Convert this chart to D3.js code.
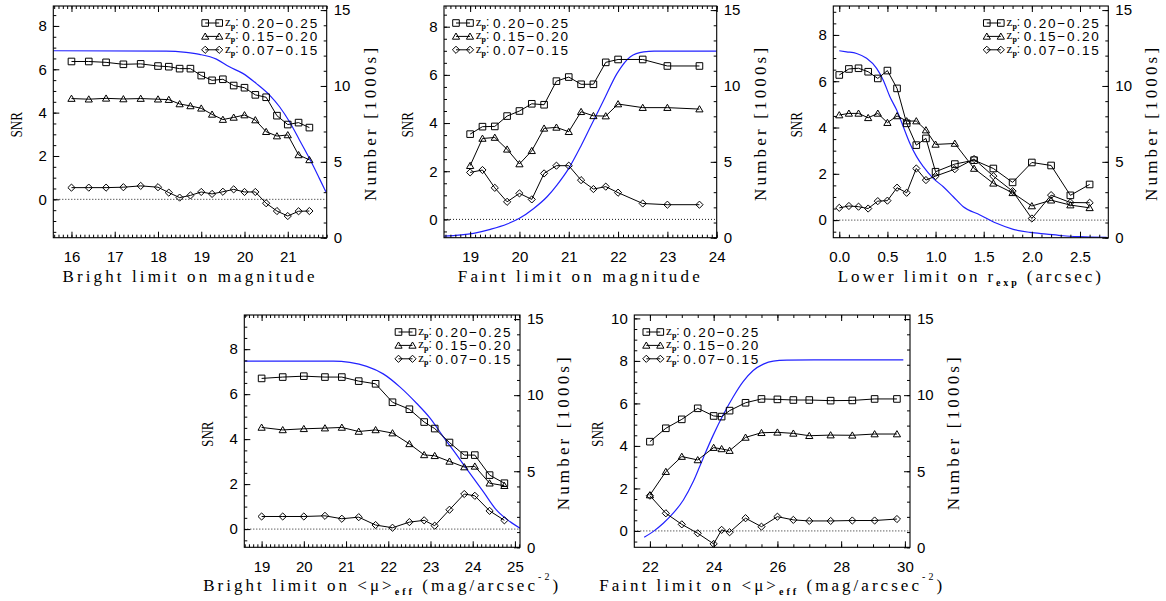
<!DOCTYPE html>
<html>
<head>
<meta charset="utf-8">
<script src="https://cdn.jsdelivr.net/npm/d3@7"></script>
<style>
  html, body { margin: 0; padding: 0; background: #fff; }
  svg { display: block; }
</style>
</head>
<body>
<svg id="chart" width="1166" height="601"></svg>
<script>
// ---------------- DATA ----------------
const legendLabels = ["0.20\u22120.25", "0.15\u22120.20", "0.07\u22120.15"];
const rightTicks = [0, 5, 10, 15];

// Panel 1: Bright limit on magnitude
const p1X   = [16,16.4,16.8,17.2,17.6,18,18.25,18.5,18.75,19,19.25,19.5,19.75,20,20.25,20.5,20.75,21,21.25,21.5];
const p1Sq  = [6.36,6.36,6.32,6.23,6.25,6.15,6.12,6.03,6.03,5.71,5.49,5.54,5.25,5.15,4.82,4.71,3.86,3.45,3.54,3.31];
const p1Tri = [4.65,4.62,4.66,4.63,4.65,4.62,4.60,4.40,4.31,4.20,3.92,3.68,3.78,3.89,3.66,3.12,2.92,2.97,2.05,1.82];
const p1Dia = [0.54,0.54,0.54,0.56,0.62,0.56,0.31,0.08,0.18,0.34,0.25,0.35,0.46,0.34,0.34,-0.18,-0.54,-0.77,-0.55,-0.54];
const p1NX  = [15.58,18.19,18.65,18.96,19.35,19.65,19.96,20.27,20.58,20.81,21.04,21.27,21.5,21.73,21.88];
const p1N   = [12.32,12.30,12.21,12.08,11.77,11.26,10.83,10.17,9.40,8.63,7.64,6.44,5.23,3.91,3.03];
const p1XTicks = [16,17,18,19,20,21];
const p1YTicks = [0,2,4,6,8];

// Panel 2: Faint limit on magnitude
const p2X   = [19,19.25,19.5,19.75,20,20.25,20.5,20.75,21,21.25,21.5,21.75,22,22.5,23,23.65];
const p2Sq  = [3.54,3.85,3.86,4.29,4.50,4.80,4.76,5.74,5.91,5.61,5.61,6.52,6.64,6.64,6.37,6.37];
const p2Tri = [2.23,3.36,3.40,2.91,2.30,2.85,3.78,3.82,3.64,4.47,4.30,4.29,4.79,4.64,4.64,4.58];
const p2Dia = [1.95,2.05,1.31,0.73,1.08,0.83,1.91,2.23,2.23,1.63,1.26,1.36,1.11,0.66,0.61,0.61];
const p2NX  = [18.47,19.07,19.41,19.75,20.0,20.29,20.56,20.76,21.0,21.24,21.44,21.71,21.98,22.25,22.52,22.73,24.0];
const p2N   = [0.11,0.29,0.55,0.90,1.28,1.93,2.70,3.47,4.57,6.00,7.31,9.07,10.83,11.93,12.25,12.30,12.30];
const p2XTicks = [19,20,21,22,23,24];
const p2YTicks = [0,2,4,6,8];

// Panel 3: Lower limit on r_exp
const p3X   = [0,0.1,0.2,0.3,0.4,0.5,0.6,0.7,0.8,0.9,1.0,1.2,1.4,1.6,1.8,2.0,2.2,2.4,2.6];
const p3Sq  = [6.27,6.53,6.56,6.41,6.12,6.46,5.69,4.18,3.24,3.53,2.09,2.42,2.59,2.23,1.63,2.49,2.36,1.07,1.54];
const p3Tri = [4.54,4.61,4.61,4.42,4.61,4.21,4.50,4.28,4.28,3.89,3.27,3.31,2.23,1.59,1.18,0.61,0.86,0.65,0.53];
const p3Dia = [0.53,0.61,0.58,0.50,0.82,0.84,1.40,1.18,2.23,1.73,1.90,2.20,2.64,1.90,1.25,0.07,1.08,0.76,0.75];
const p3NX  = [0,0.076,0.18,0.284,0.388,0.457,0.526,0.596,0.665,0.734,0.803,0.873,0.976,1.08,1.184,1.288,1.461,1.634,1.807,1.98,2.154,2.327,2.5,2.777];
const p3N   = [12.32,12.25,12.14,11.82,11.16,10.38,9.29,8.41,7.31,6.21,5.34,4.68,3.91,3.36,2.70,2.04,1.50,0.95,0.55,0.35,0.24,0.13,0.07,0.02];
const p3XTicks = [0,0.5,1.0,1.5,2.0,2.5];
const p3YTicks = [0,2,4,6,8];

// Panel 4: Bright limit on <mu>_eff
const p4X   = [19,19.5,20,20.5,20.9,21.3,21.7,22.1,22.5,22.85,23.1,23.45,23.8,24.05,24.4,24.75];
const p4Sq  = [6.70,6.76,6.80,6.76,6.76,6.58,6.46,5.64,5.33,4.76,4.47,3.85,3.29,3.29,2.40,2.04];
const p4Tri = [4.52,4.41,4.46,4.49,4.52,4.34,4.41,4.27,3.79,3.30,3.26,3.01,2.76,2.79,2.04,1.93];
const p4Dia = [0.56,0.56,0.56,0.59,0.46,0.53,0.18,0.06,0.31,0.39,0.15,0.86,1.56,1.48,0.81,0.39];
const p4NX  = [18.59,20.7,21.09,21.49,21.88,22.28,22.67,22.99,23.3,23.62,23.93,24.25,24.56,24.88,25.12];
const p4N   = [12.24,12.24,12.15,11.89,11.40,10.53,9.47,8.49,7.28,6.07,4.87,3.66,2.46,1.69,1.25];
const p4XTicks = [19,20,21,22,23,24,25];
const p4YTicks = [0,2,4,6,8];

// Panel 5: Faint limit on <mu>_eff
const p5X   = [22,22.5,23,23.5,24,24.25,24.5,25,25.5,26,26.5,27,27.67,28.35,29.05,29.75];
const p5Sq  = [4.20,4.83,5.25,5.77,5.41,5.38,5.66,6.03,6.21,6.19,6.16,6.16,6.13,6.14,6.21,6.21];
const p5Tri = [1.69,2.79,3.50,3.34,3.92,3.86,3.78,4.40,4.62,4.64,4.59,4.48,4.51,4.50,4.56,4.56];
const p5Dia = [1.66,0.83,0.31,-0.11,-0.61,0.05,-0.06,0.60,0.20,0.67,0.52,0.47,0.47,0.49,0.49,0.56];
const p5NX  = [21.82,22.10,22.42,22.73,23.05,23.36,23.67,23.99,24.30,24.62,24.93,25.24,25.56,25.87,26.29,27.13,28.17,29.95];
const p5N   = [0.66,1.03,1.58,2.24,3.11,4.32,5.86,7.39,8.71,9.91,10.90,11.62,12.04,12.24,12.30,12.32,12.32,12.32];
const p5XTicks = [22,24,26,28,30];
const p5YTicks = [0,2,4,6,8,10];

// ---------------- LAYOUT ----------------
const panels = [
  { box:{x0:53.3,x1:326.7,y0:6,y1:237.7}, xDom:[15.58,21.9], yDom:[-1.77,8.92],
    x:p1X, sq:p1Sq, tri:p1Tri, dia:p1Dia, nx:p1NX, n:p1N, xTicks:p1XTicks, yTicks:p1YTicks,
    xMinor:0.1, yMinor:0.5, fmt:d3.format("d"), legend:"right",
    title:[{t:"Bright limit on magnitude"}], titleW:252 },
  { box:{x0:444,x1:716.7,y0:6,y1:237.7}, xDom:[18.47,24.0], yDom:[-0.76,8.86],
    x:p2X, sq:p2Sq, tri:p2Tri, dia:p2Dia, nx:p2NX, n:p2N, xTicks:p2XTicks, yTicks:p2YTicks,
    xMinor:0.1, yMinor:0.5, fmt:d3.format("d"), legend:"left",
    title:[{t:"Faint limit on magnitude"}], titleW:242 },
  { box:{x0:833.3,x1:1108.3,y0:6,y1:237.7}, xDom:[-0.062,2.794], yDom:[-0.76,9.25],
    x:p3X, sq:p3Sq, tri:p3Tri, dia:p3Dia, nx:p3NX, n:p3N, xTicks:p3XTicks, yTicks:p3YTicks,
    xMinor:0.1, yMinor:0.5, fmt:d3.format(".1f"), legend:"right",
    title:[{t:"Lower limit on r"},{t:"exp",sub:true},{t:" (arcsec)"}], titleW:263 },
  { box:{x0:244.3,x1:520,y0:315,y1:547.3}, xDom:[18.59,25.12], yDom:[-0.81,9.52],
    x:p4X, sq:p4Sq, tri:p4Tri, dia:p4Dia, nx:p4NX, n:p4N, xTicks:p4XTicks, yTicks:p4YTicks,
    xMinor:0.1, yMinor:0.5, fmt:d3.format("d"), legend:"right",
    title:[{t:"Bright limit on <\u03bc>"},{t:"eff",sub:true},{t:" (mag/arcsec"},{t:"-2",sup:true},{t:")"}], titleW:355 },
  { box:{x0:634.3,x1:910,y0:315,y1:547.3}, xDom:[21.51,30.16], yDom:[-0.77,10.16],
    x:p5X, sq:p5Sq, tri:p5Tri, dia:p5Dia, nx:p5NX, n:p5N, xTicks:p5XTicks, yTicks:p5YTicks,
    xMinor:0.5, yMinor:0.5, fmt:d3.format("d"), legend:"left",
    title:[{t:"Faint limit on <\u03bc>"},{t:"eff",sub:true},{t:" (mag/arcsec"},{t:"-2",sup:true},{t:")"}], titleW:343 }
];

const svg = d3.select("#chart");
svg.append("rect").attr("width",1166).attr("height",601).attr("fill","#fff");

const SANS = "'Liberation Sans', Arial, sans-serif";
const SERIF = "'Liberation Serif', 'Times New Roman', serif";
const BLUE = "#2222ff";

const symPaths = {
  sq: "M-3.3,-3.3H3.3V3.3H-3.3Z",
  tri: "M-3.6,2.8L0,-3.4L3.6,2.8Z",
  dia: "M0,-3.6L3.6,0L0,3.6L-3.6,0Z"
};

function range(a, b, step) {
  const out = [];
  const s = Math.ceil(a / step - 1e-9);
  for (let k = s; k * step <= b + 1e-9; k++) out.push(+(k * step).toFixed(6));
  return out;
}

function fitText(sel, target) {
  const node = sel.node();
  const w = node.getComputedTextLength();
  const n = node.textContent.length;
  if (n > 1) sel.attr("letter-spacing", ((target - w) / (n - 1)).toFixed(3));
}

panels.forEach((p, i) => {
  const {x0, x1, y0, y1} = p.box;
  const xs = d3.scaleLinear().domain(p.xDom).range([x0, x1]);
  const ys = d3.scaleLinear().domain(p.yDom).range([y1, y0]);
  const ns = d3.scaleLinear().domain([0, 15.27]).range([y1, y0]);
  const g = svg.append("g");

  const clipId = "clip" + i;
  svg.append("clipPath").attr("id", clipId).append("rect")
    .attr("x", x0).attr("y", y0).attr("width", x1 - x0).attr("height", y1 - y0);
  const pg = g.append("g").attr("clip-path", `url(#${clipId})`);

  // zero dotted line
  pg.append("line").attr("x1", x0).attr("x2", x1).attr("y1", ys(0)).attr("y2", ys(0))
    .attr("stroke", "#000").attr("stroke-width", 0.9).attr("stroke-dasharray", "1,2");

  // blue number curve
  const nData = p.nx.map((v, k) => [v, p.n[k]]);
  pg.append("path").datum(nData)
    .attr("d", d3.line().x(d => xs(d[0])).y(d => ns(d[1])).curve(d3.curveMonotoneX))
    .attr("fill", "none").attr("stroke", BLUE).attr("stroke-width", 1.2);

  // series
  [["sq", p.sq], ["tri", p.tri], ["dia", p.dia]].forEach(([key, vals]) => {
    const data = p.x.map((v, k) => [v, vals[k]]);
    pg.append("path").datum(data)
      .attr("d", d3.line().x(d => xs(d[0])).y(d => ys(d[1])))
      .attr("fill", "none").attr("stroke", "#000").attr("stroke-width", 1);
    pg.selectAll(null).data(data).enter().append("path")
      .attr("d", symPaths[key])
      .attr("transform", d => `translate(${xs(d[0])},${ys(d[1])})`)
      .attr("fill", "none").attr("stroke", "#000").attr("stroke-width", 1);
  });

  // axes
  const styleAxis = (ag) => {
    ag.select(".domain").remove();
    ag.selectAll("line").attr("stroke", "#000").attr("stroke-width", 1);
    ag.selectAll("text").attr("font-family", SANS).attr("font-size", 15).attr("fill", "#000");
  };
  const xMinor = range(p.xDom[0], p.xDom[1], p.xMinor);
  const yMinor = range(p.yDom[0], p.yDom[1], p.yMinor);
  const nMinor = range(0, 15.27, 1);

  // bottom
  g.append("g").attr("transform", `translate(0,${y1})`)
    .call(d3.axisBottom(xs).tickValues(xMinor).tickSize(-3).tickFormat("")).call(styleAxis);
  g.append("g").attr("transform", `translate(0,${y1})`)
    .call(d3.axisBottom(xs).tickValues(p.xTicks).tickSizeInner(-6).tickSizeOuter(0).tickPadding(14).tickFormat(p.fmt))
    .call(styleAxis);
  // top
  g.append("g").attr("transform", `translate(0,${y0})`)
    .call(d3.axisTop(xs).tickValues(xMinor).tickSize(-3).tickFormat("")).call(styleAxis);
  g.append("g").attr("transform", `translate(0,${y0})`)
    .call(d3.axisTop(xs).tickValues(p.xTicks).tickSize(-6).tickFormat("")).call(styleAxis);
  // left
  g.append("g").attr("transform", `translate(${x0},0)`)
    .call(d3.axisLeft(ys).tickValues(yMinor).tickSize(-3).tickFormat("")).call(styleAxis);
  g.append("g").attr("transform", `translate(${x0},0)`)
    .call(d3.axisLeft(ys).tickValues(p.yTicks).tickSizeInner(-6).tickSizeOuter(0).tickPadding(6.5).tickFormat(d3.format("d")))
    .call(styleAxis);
  // right
  g.append("g").attr("transform", `translate(${x1},0)`)
    .call(d3.axisRight(ns).tickValues(nMinor).tickSize(-3).tickFormat("")).call(styleAxis);
  g.append("g").attr("transform", `translate(${x1},0)`)
    .call(d3.axisRight(ns).tickValues(rightTicks).tickSizeInner(-6).tickSizeOuter(0).tickPadding(7).tickFormat(d3.format("d")))
    .call(styleAxis);

  // frame
  g.append("rect").attr("x", x0).attr("y", y0).attr("width", x1 - x0).attr("height", y1 - y0)
    .attr("fill", "none").attr("stroke", "#000").attr("stroke-width", 1.1);

  // x title
  const cx = (x0 + x1) / 2;
  const tt = g.append("text").attr("x", cx).attr("y", y1 + 44)
    .attr("font-family", SERIF).attr("font-size", 17).attr("fill", "#000").attr("text-anchor", "middle");
  p.title.forEach((part, idx) => {
    const ts = tt.append("tspan").text(part.t);
    const prev = p.title[idx - 1];
    if (part.sub) ts.attr("font-size", 10).attr("font-weight", "bold").attr("dy", 4);
    else if (part.sup) ts.attr("font-size", 10).attr("dy", -11);
    else if (prev && prev.sub) ts.attr("dy", -4);
    else if (prev && prev.sup) ts.attr("dy", 11);
  });
  fitText(tt, p.titleW);

  // SNR label (condensed)
  g.append("text")
    .attr("transform", `translate(${x0 - 31.5},${(y0 + y1) / 2 + 3}) rotate(-90) scale(0.82,1)`)
    .attr("font-family", SERIF).attr("font-size", 16).attr("fill", "#000").attr("text-anchor", "middle")
    .text("SNR");

  // Number label
  const nl = g.append("text")
    .attr("transform", `translate(${x1 + 49},${(y0 + y1) / 2 + 1}) rotate(-90)`)
    .attr("font-family", SERIF).attr("font-size", 17).attr("fill", "#000").attr("text-anchor", "middle")
    .text("Number [1000s]");
  fitText(nl, 153);

  // legend
  const lx = p.legend === "right" ? x1 - 121.5 : x0 + 12;
  const keys = ["sq", "tri", "dia"];
  keys.forEach((key, k) => {
    const cy = y0 + 17 + k * 13.4;
    const lg = g.append("g");
    lg.append("line").attr("x1", lx).attr("x2", lx + 14).attr("y1", cy).attr("y2", cy)
      .attr("stroke", "#000").attr("stroke-width", 1);
    [lx, lx + 14].forEach(sx => lg.append("path").attr("d", symPaths[key])
      .attr("transform", `translate(${sx},${cy})`).attr("fill", "none").attr("stroke", "#000"));
    const zt = lg.append("text").attr("x", lx + 19.8).attr("y", cy + 3)
      .attr("font-family", SERIF).attr("font-size", 13).attr("fill", "#000");
    zt.append("tspan").text("z");
    zt.append("tspan").text("p").attr("font-size", 8).attr("font-weight", "bold").attr("dy", 3);
    zt.append("tspan").text(":").attr("dy", -3).attr("font-family", SANS).attr("font-size", 12);
    const vts = zt.append("tspan").attr("x", lx + 37).attr("dy", 1.8)
      .attr("font-family", SANS).attr("font-size", 13.5)
      .text(legendLabels[k]);
    const w = vts.node().getComputedTextLength();
    vts.attr("letter-spacing", ((75 - w) / 8).toFixed(3));
  });
});
</script>
</body>
</html>
